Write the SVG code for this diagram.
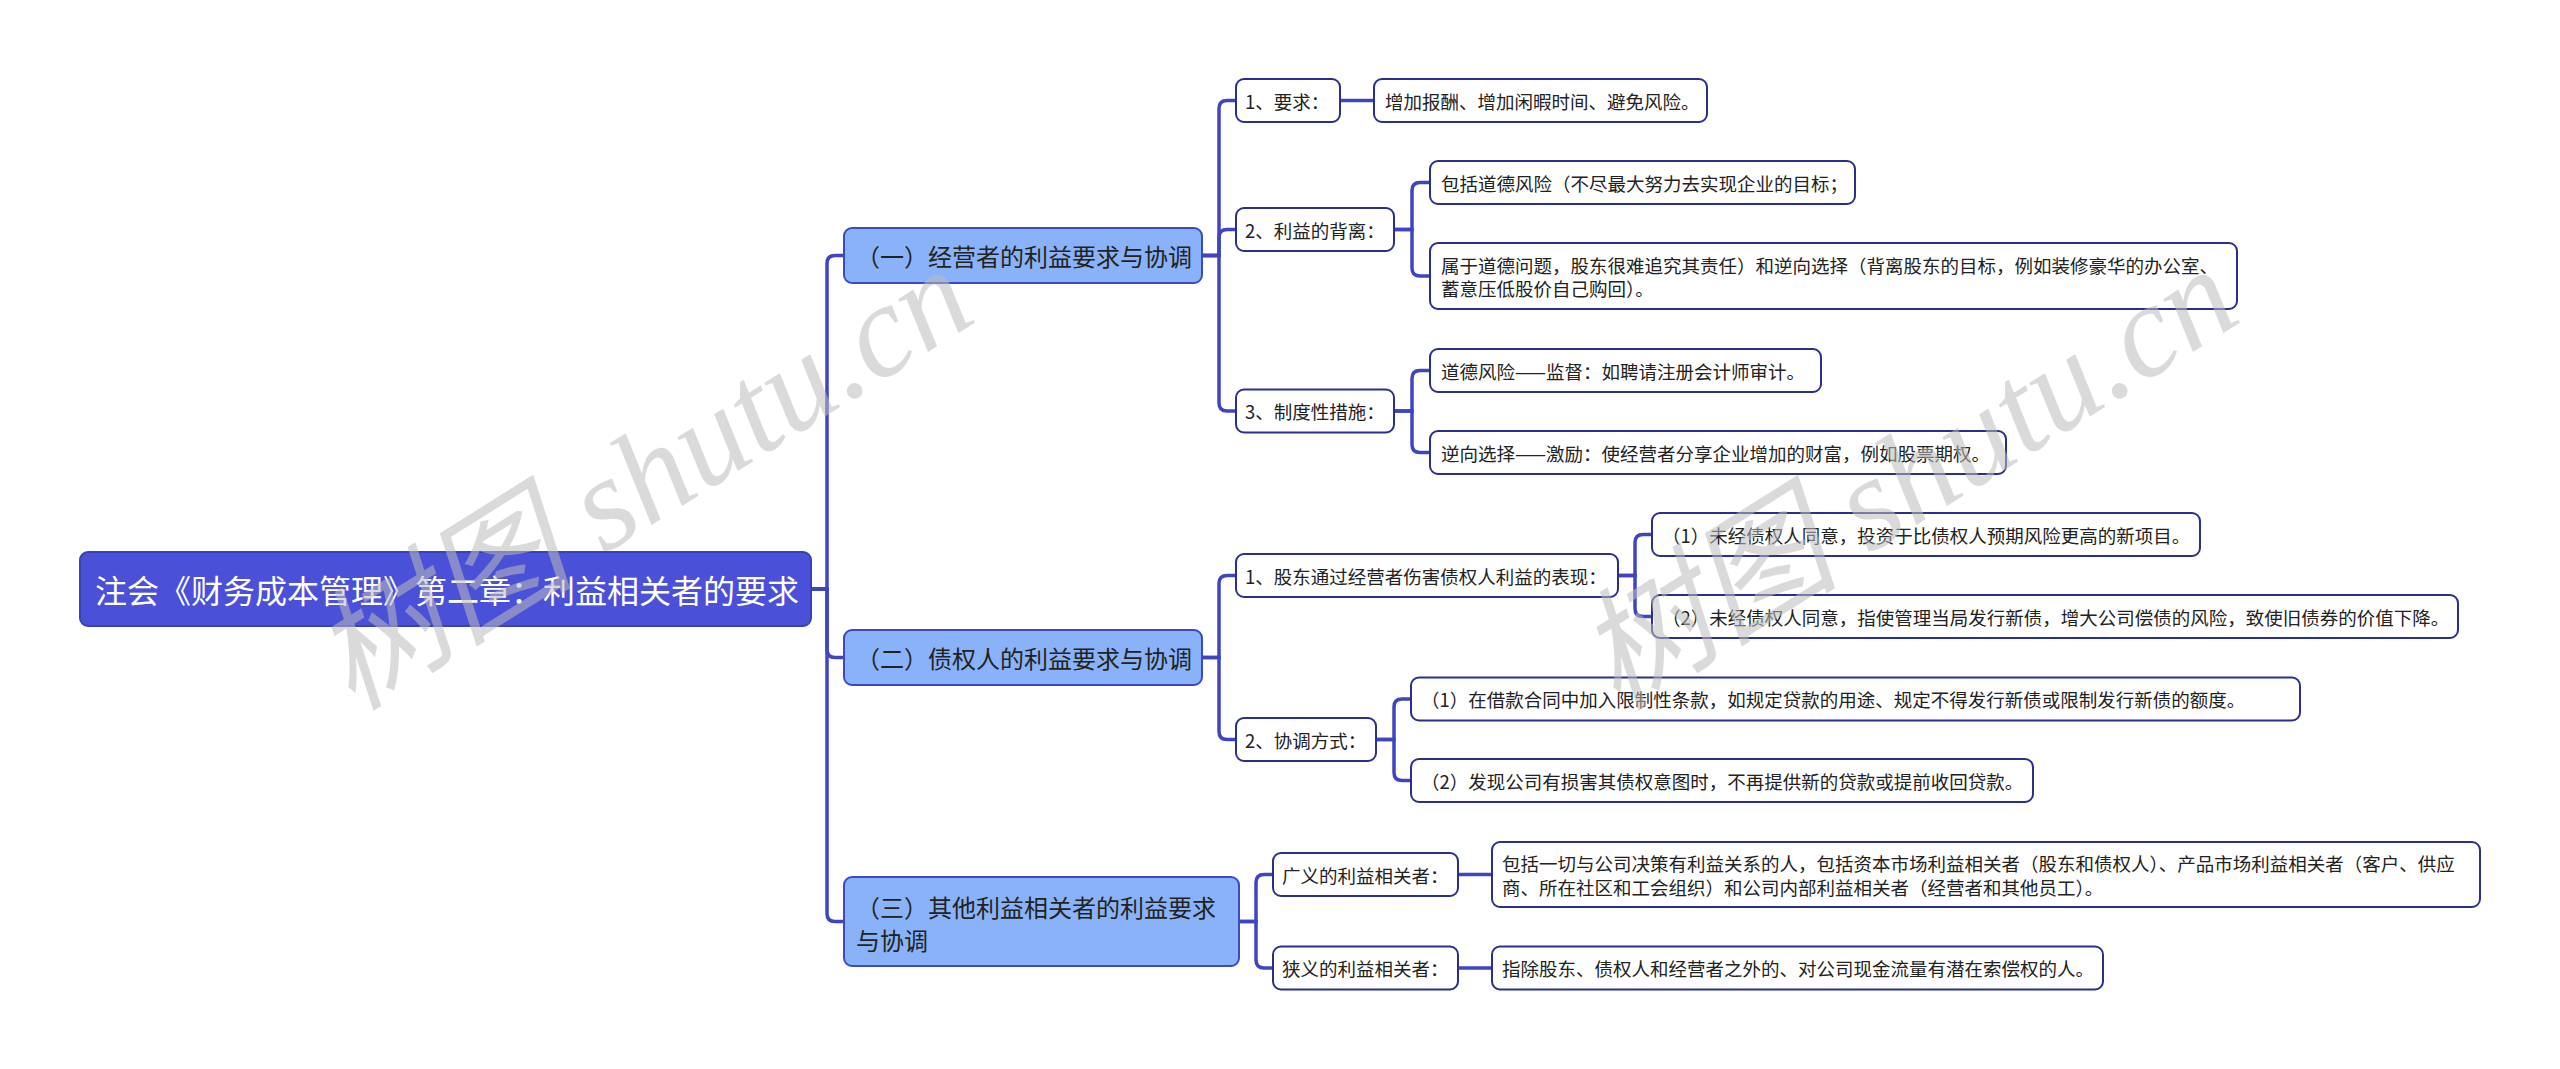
<svg xmlns="http://www.w3.org/2000/svg" width="2560" height="1069" viewBox="0 0 2560 1069">
<style>
text{font-family:"Noto Sans CJK SC","Microsoft YaHei",sans-serif;dominant-baseline:central}
.root rect{fill:#4a51d8;stroke:#3a40b8;stroke-width:2}
.root text{fill:#fff;font-size:32px}
.l1 rect{fill:#8ab2f8;stroke:#3d49c2;stroke-width:2}
.l1 text{fill:#222;font-size:24px}
.l2 rect,.leaf rect{fill:#fff;stroke:#2a2f8c;stroke-width:2}
.l2 text,.leaf text{fill:#222;font-size:18.5px}
#connectors path{fill:none;stroke:#3e45c0;stroke-width:3.5}
.wm{font-family:"Liberation Serif","Noto Sans CJK SC",serif;font-style:italic;font-size:132px;fill:#bcbcbc;fill-opacity:0.55;dominant-baseline:alphabetic}
</style>
<rect width="2560" height="1069" fill="#fff"/>
<g id="connectors">
<path d="M811,589 H827 V263.5 Q827,255.5 835,255.5 H844"/>
<path d="M811,589 H827 V649.5 Q827,657.5 835,657.5 H844"/>
<path d="M811,589 H827 V913.5 Q827,921.5 835,921.5 H844"/>
<path d="M1202,255.5 H1219 V108.5 Q1219,100.5 1227,100.5 H1236"/>
<path d="M1202,255.5 H1219 V237.5 Q1219,229.5 1227,229.5 H1236"/>
<path d="M1202,255.5 H1219 V403 Q1219,411 1227,411 H1236"/>
<path d="M1340,100.5 H1374"/>
<path d="M1394,229.5 H1412 V190.5 Q1412,182.5 1420,182.5 H1430"/>
<path d="M1394,229.5 H1412 V268 Q1412,276 1420,276 H1430"/>
<path d="M1394,411 H1412 V378.5 Q1412,370.5 1420,370.5 H1430"/>
<path d="M1394,411 H1412 V444.5 Q1412,452.5 1420,452.5 H1430"/>
<path d="M1202,657.5 H1219 V583.5 Q1219,575.5 1227,575.5 H1236"/>
<path d="M1202,657.5 H1219 V731.5 Q1219,739.5 1227,739.5 H1236"/>
<path d="M1618,575.5 H1635 V542.5 Q1635,534.5 1643,534.5 H1652"/>
<path d="M1618,575.5 H1635 V608.5 Q1635,616.5 1643,616.5 H1652"/>
<path d="M1376,739.5 H1394 V707 Q1394,699 1402,699 H1411"/>
<path d="M1376,739.5 H1394 V772.5 Q1394,780.5 1402,780.5 H1411"/>
<path d="M1239,921.5 H1256 V882.5 Q1256,874.5 1264,874.5 H1273"/>
<path d="M1239,921.5 H1256 V960 Q1256,968 1264,968 H1273"/>
<path d="M1458,874.5 H1492"/>
<path d="M1458,968 H1492"/>
</g>
<g id="root" class="root"><rect x="80" y="552" width="731" height="74" rx="8"/><text x="95" y="589">注会《财务成本管理》第二章：利益相关者的要求</text></g>
<g id="n1" class="l1"><rect x="844" y="228" width="358" height="55" rx="8"/><text x="856" y="255.5">（一）经营者的利益要求与协调</text></g>
<g id="n2" class="l1"><rect x="844" y="630" width="358" height="55" rx="8"/><text x="856" y="657.5">（二）债权人的利益要求与协调</text></g>
<g id="n3" class="l1"><rect x="844" y="877" width="395" height="89" rx="8"/><text x="856" y="906">（三）其他利益相关者的利益要求</text><text x="856" y="939">与协调</text></g>
<g id="a1" class="l2"><rect x="1236" y="79" width="104" height="43" rx="8"/><text x="1245" y="100.5">1、要求：</text></g>
<g id="a2" class="l2"><rect x="1236" y="208" width="158" height="43" rx="8"/><text x="1245" y="229.5">2、利益的背离：</text></g>
<g id="a3" class="l2"><rect x="1236" y="389.5" width="158" height="43" rx="8"/><text x="1245" y="411">3、制度性措施：</text></g>
<g id="b1" class="l2"><rect x="1236" y="554" width="382" height="43" rx="8"/><text x="1245" y="575.5">1、股东通过经营者伤害债权人利益的表现：</text></g>
<g id="b2" class="l2"><rect x="1236" y="718" width="140" height="43" rx="8"/><text x="1245" y="739.5">2、协调方式：</text></g>
<g id="c1" class="l2"><rect x="1273" y="853" width="185" height="43" rx="8"/><text x="1282" y="874.5">广义的利益相关者：</text></g>
<g id="c2" class="l2"><rect x="1273" y="946.5" width="185" height="43" rx="8"/><text x="1282" y="968">狭义的利益相关者：</text></g>
<g id="a1a" class="leaf"><rect x="1374" y="79" width="333" height="43" rx="8"/><text x="1385" y="100.5">增加报酬、增加闲暇时间、避免风险。</text></g>
<g id="a2a" class="leaf"><rect x="1430" y="161" width="425" height="43" rx="8"/><text x="1441" y="182.5">包括道德风险（不尽最大努力去实现企业的目标；</text></g>
<g id="a2b" class="leaf"><rect x="1430" y="243" width="807" height="66" rx="8"/><text x="1441" y="264.5">属于道德问题，股东很难追究其责任）和逆向选择（背离股东的目标，例如装修豪华的办公室、</text><text x="1441" y="287.5">蓄意压低股价自己购回）。</text></g>
<g id="a3a" class="leaf"><rect x="1430" y="349" width="391" height="43" rx="8"/><text x="1441" y="370.5">道德风险——监督：如聘请注册会计师审计。</text></g>
<g id="a3b" class="leaf"><rect x="1430" y="431" width="576" height="43" rx="8"/><text x="1441" y="452.5">逆向选择——激励：使经营者分享企业增加的财富，例如股票期权。</text></g>
<g id="b1a" class="leaf"><rect x="1652" y="513" width="548" height="43" rx="8"/><text x="1662" y="534.5">（1）未经债权人同意，投资于比债权人预期风险更高的新项目。</text></g>
<g id="b1b" class="leaf"><rect x="1652" y="595" width="806" height="43" rx="8"/><text x="1662" y="616.5">（2）未经债权人同意，指使管理当局发行新债，增大公司偿债的风险，致使旧债券的价值下降。</text></g>
<g id="b2a" class="leaf"><rect x="1411" y="677.5" width="889" height="43" rx="8"/><text x="1421" y="699">（1）在借款合同中加入限制性条款，如规定贷款的用途、规定不得发行新债或限制发行新债的额度。</text></g>
<g id="b2b" class="leaf"><rect x="1411" y="759" width="622" height="43" rx="8"/><text x="1421" y="780.5">（2）发现公司有损害其债权意图时，不再提供新的贷款或提前收回贷款。</text></g>
<g id="c1a" class="leaf"><rect x="1492" y="842" width="988" height="65" rx="8"/><text x="1502" y="863">包括一切与公司决策有利益关系的人，包括资本市场利益相关者（股东和债权人）、产品市场利益相关者（客户、供应</text><text x="1502" y="887">商、所在社区和工会组织）和公司内部利益相关者（经营者和其他员工）。</text></g>
<g id="c2a" class="leaf"><rect x="1492" y="946.5" width="611" height="43" rx="8"/><text x="1502" y="968">指除股东、债权人和经营者之外的、对公司现金流量有潜在索偿权的人。</text></g>
<g id="watermark">
<text class="wm" transform="translate(352,712) rotate(-32)">树图 shutu.cn</text>
<text class="wm" transform="translate(1617,712) rotate(-32)">树图 shutu.cn</text>
</g>
</svg>
